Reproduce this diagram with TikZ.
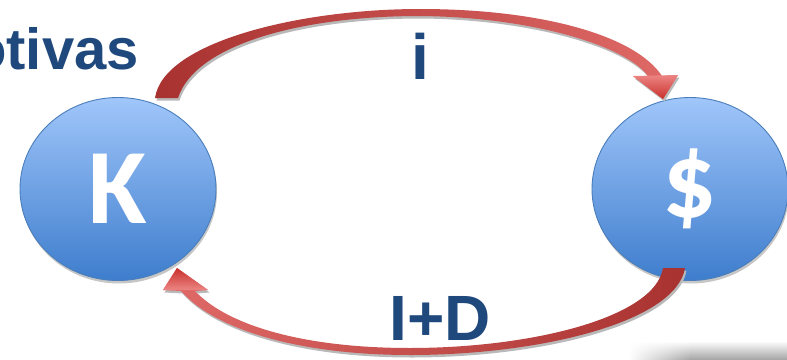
\documentclass[tikz,border=0pt]{standalone}
\usepackage{fontspec}
\setmainfont{Liberation Sans}
\newfontfamily\calib{Carlito}
\usetikzlibrary{shapes.geometric,fadings}
\definecolor{txtblue}{HTML}{1F497D}
\definecolor{ctop}{HTML}{A0C6FA}
\definecolor{cbot}{HTML}{3E7DCD}
\definecolor{cedge}{HTML}{4A7EBB}
\definecolor{rdark}{HTML}{A83230}
\definecolor{rlight}{HTML}{E06A68}
\definecolor{rhead}{HTML}{EC8583}
\definecolor{rtip}{HTML}{C9302C}
\definecolor{shgray}{HTML}{A8A8A8}
\tikzfading[name=fadeL, left color=transparent!100, right color=transparent!0]
\newcommand\TopBand{(155,98) .. controls (163,42) and (300,9) .. (420,9) .. controls (540,9) and (635,35) .. (662,76) -- (678,75) -- (663,99) -- (633,76) -- (648,76) .. controls (625,45) and (530,17) .. (420,16) .. controls (300,16) and (195,45) .. (178,98) -- cycle}
\newcommand\TopHead{(633,76) -- (678,75) -- (663,99) -- cycle}
\newcommand\BotBand{(685,268) .. controls (676,322) and (540,355) .. (410,355) .. controls (300,355) and (215,330) .. (181,291) -- (163,290) -- (177,268) -- (208,290) -- (195,291) .. controls (228,326) and (305,348) .. (410,348) .. controls (530,348) and (655,318) .. (663,268) -- cycle}
\newcommand\BotHead{(163,290) -- (177,268) -- (208,290) -- cycle}
\begin{document}
\begin{tikzpicture}[x=1pt,y=-1pt,
  ball/.style={ellipse, minimum width=196pt, minimum height=183pt, inner sep=0pt,
    top color=ctop, bottom color=cbot, draw=cedge, line width=0.9pt,
    text=white, font=\calib\bfseries\fontsize{107}{110}\selectfont},
  ballshadow/.style={ellipse, minimum width=196pt, minimum height=183pt, inner sep=0pt, fill=gray!45},
  bigtext/.style={text=txtblue, inner sep=0pt, font=\bfseries\fontsize{64}{72}\selectfont},
  bandshadow/.style={fill=gray!55}]
\useasboundingbox (0,0) rectangle (787,359);
\clip (0,0) rectangle (787,359);
% soft gray shadow bottom right
\shade[top color=white, bottom color=shgray, path fading=fadeL] (628,341) rectangle (690.5,359);
\shade[top color=white, bottom color=shgray] (690,341) rectangle (787,359);
% title fragment
\node[bigtext, anchor=base east, font=\bfseries\fontsize{58}{70}\selectfont] (title) at (139,69) {otivas};
% circle shadows
\node[ballshadow] (Ks) at (119,192) {};
\node[ballshadow] (Ds) at (691,192) {};
% circles
\node[ball] (K) at (118,189) {K};
\node[ball] (D) at (690,189) {\$};
% arrow shadows
\begin{scope}[shift={(1.5,2.5)}]
  \fill[bandshadow] \TopBand;
  \fill[bandshadow] \BotBand;
\end{scope}
% arrows
\shade[left color=rdark, right color=rlight] \TopBand;
\shade[top color=rhead, bottom color=rtip] \TopHead;
\shade[left color=rlight, right color=rdark] \BotBand;
\shade[top color=rtip, bottom color=rhead] \BotHead;
% labels
\node[bigtext, anchor=base] (i) at (420.5,79) {i};
\node[bigtext, anchor=base] (ID) at (440,340) {I+D};
\end{tikzpicture}
\end{document}
